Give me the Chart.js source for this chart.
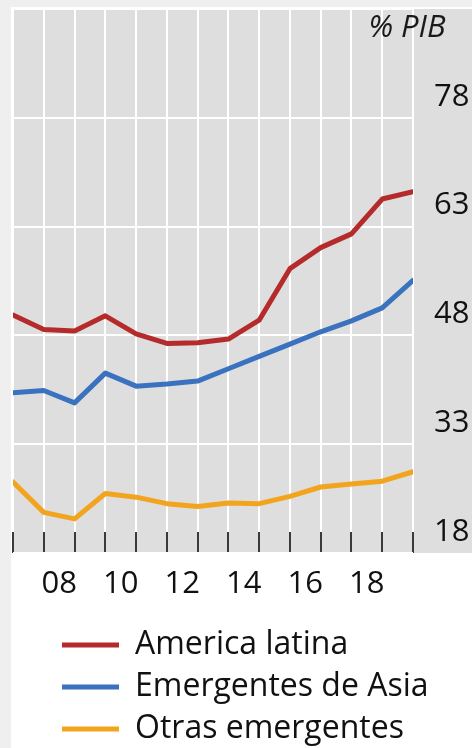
<!DOCTYPE html>
<html><head><meta charset="utf-8">
<script src="https://cdn.jsdelivr.net/npm/chart.js@4"></script>
<style>html,body{margin:0;padding:0;background:#efefef;overflow:hidden}#wrap{width:472px;height:748px;position:relative}canvas{display:block}</style>
</head><body><div id="wrap"><canvas id="c" width="472" height="748"></canvas></div>
<script>
const years = [2006,2007,2008,2009,2010,2011,2012,2013,2014,2015,2016,2017,2018,2019];
const americaLatina   = [50.8,48.8,48.6,50.7,48.2,46.9,47.0,47.5,50.1,57.2,60.1,62.0,66.8,67.8];
const emergentesAsia  = [40.1,40.4,38.7,42.8,41.0,41.3,41.7,43.4,45.1,46.8,48.5,50.0,51.8,55.6];
const otrasEmergentes = [27.8,23.6,22.7,26.2,25.7,24.8,24.4,24.9,24.8,25.8,27.1,27.5,27.9,29.2];
const seriesNames = ['America latina','Emergentes de Asia','Otras emergentes'];
const xTickYears = [2008,2010,2012,2014,2016,2018];
const xTickLabels = ['08','10','12','14','16','18'];
const yTickValues = [18,33,48,63,78,93];
const yTickLabels = ['18','33','48','63','78',''];
const unitLabel = '% PIB';

const FONT = '"Open Sans", "DejaVu Sans", sans-serif';
const colors = ['#b52a2a','#3a72c0','#f3a41e'];
const seriesData = [americaLatina, emergentesAsia, otrasEmergentes];

const decor = {
  id: 'decor',
  beforeDraw(chart) {
    const ctx = chart.ctx, a = chart.chartArea;
    ctx.save();
    ctx.fillStyle = '#ffffff';
    ctx.fillRect(a.left - 2, a.top - 2, chart.width - a.left + 2, chart.height - a.top + 2);
    ctx.fillStyle = '#dedede';
    ctx.fillRect(a.left, a.top, chart.width - a.left, a.bottom - a.top);
    ctx.restore();
  },
  afterLayout(chart) {
    chart.legend.left = 52;
    chart.legend.top += 7;
  },
  afterDraw(chart) {
    const ctx = chart.ctx, a = chart.chartArea;
    ctx.save();
    ctx.font = 'italic 31px ' + FONT;
    ctx.fillStyle = '#1a1a1a';
    ctx.textAlign = 'center';
    ctx.textBaseline = 'middle';
    ctx.fillText(unitLabel, chart.width - 65, a.top + 19);
    ctx.restore();
  }
};

new Chart(document.getElementById('c'), {
  type: 'line',
  data: {
    datasets: seriesNames.map((n, i) => ({
      label: n,
      data: years.map((y, k) => ({x: y, y: seriesData[i][k]})),
      borderColor: colors[i],
      backgroundColor: colors[i],
      borderWidth: 5,
      pointRadius: 0,
      tension: 0,
      borderCapStyle: 'round',
      borderJoinStyle: 'round',
      xAxisID: 'x',
      yAxisID: 'y'
    }))
  },
  options: {
    responsive: false,
    devicePixelRatio: 1,
    animation: false,
    layout: {padding: {left: 13, top: 9, right: 0, bottom: 0}},
    plugins: {
      tooltip: {enabled: false},
      legend: {
        position: 'bottom',
        align: 'start',
        labels: {
          boxWidth: 57,
          boxHeight: 5,
          padding: 10,
          color: '#111',
          font: {family: FONT, size: 32},
          generateLabels(chart) {
            return chart.data.datasets.map((d, i) => ({
              text: d.label, fillStyle: d.borderColor, strokeStyle: d.borderColor,
              lineWidth: 0, hidden: false, datasetIndex: i, fontColor: '#111'
            }));
          }
        }
      }
    },
    scales: {
      x: {
        type: 'linear',
        position: 'bottom',
        weight: 0,
        min: years[0],
        max: years[years.length - 1],
        afterBuildTicks(scale) {
          scale.ticks = years.map(v => ({value: v}));
        },
        afterFit(scale) {
          scale.height = 0;
          scale.paddingLeft = 0; scale.paddingRight = 0;
        },
        border: {display: false},
        grid: {
          color: '#ffffff',
          lineWidth: 2,
          drawOnChartArea: true,
          drawTicks: true,
          tickLength: -21,
          tickColor: '#3a3a3a',
          tickWidth: 2
        },
        ticks: {display: false}
      },
      x2: {
        type: 'linear',
        position: 'bottom',
        weight: 1,
        min: years[0],
        max: years[years.length - 1],
        afterBuildTicks(scale) {
          scale.ticks = xTickYears.map(v => ({value: v - 0.5}));
        },
        afterFit(scale) {
          scale.height = 59;
          scale.paddingLeft = 0; scale.paddingRight = 0;
        },
        border: {display: false},
        grid: {display: false, drawTicks: false},
        ticks: {
          autoSkip: false,
          maxRotation: 0,
          minRotation: 0,
          padding: 13,
          color: '#111',
          font: {family: FONT, size: 31},
          callback(v) {
            const i = xTickYears.indexOf(v + 0.5);
            return i >= 0 ? xTickLabels[i] : '';
          }
        }
      },
      y: {
        position: 'right',
        min: yTickValues[0],
        max: yTickValues[yTickValues.length - 1],
        afterBuildTicks(scale) {
          scale.ticks = yTickValues.map(v => ({value: v}));
        },
        afterFit(scale) {
          scale.width = 59;
          scale.paddingTop = 0; scale.paddingBottom = 0;
        },
        border: {display: false},
        grid: {color: '#ffffff', lineWidth: 2, drawTicks: false},
        ticks: {
          padding: 21,
          labelOffset: -21,
          color: '#111',
          font: {family: FONT, size: 31},
          callback(v) {
            const i = yTickValues.indexOf(v);
            return i >= 0 ? yTickLabels[i] : '';
          }
        }
      }
    }
  },
  plugins: [decor]
});
</script>
</body></html>
